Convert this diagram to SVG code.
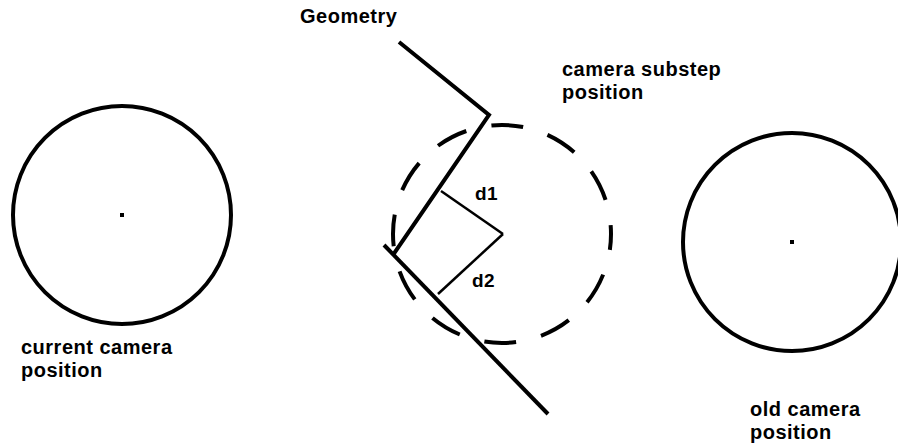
<svg xmlns="http://www.w3.org/2000/svg" width="898" height="447" viewBox="0 0 898 447">
<style>
.lbl{font-family:"Liberation Sans",Arial,sans-serif;font-weight:bold;font-size:20px;fill:#000;letter-spacing:0.5px}
.cam{fill:none;stroke:#000;stroke-width:4}
.dash{fill:none;stroke:#000;stroke-width:4;stroke-dasharray:32 25.6;stroke-dashoffset:16}
.geo{fill:none;stroke:#000;stroke-width:4;stroke-linejoin:miter}
.perp{fill:none;stroke:#000;stroke-width:2.5}
</style>
<rect width="898" height="447" fill="#fff"/>
<g id="current-camera">
<circle class="cam" cx="122" cy="215" r="109"/>
<rect x="120" y="213" width="4" height="4" fill="#000"/>
<text class="lbl" x="21" y="354">current camera</text>
<text class="lbl" x="21" y="377">position</text>
</g>
<g id="old-camera">
<circle class="cam" cx="792" cy="242" r="109"/>
<rect x="790" y="240" width="4" height="4" fill="#000"/>
<text class="lbl" x="750" y="416">old camera</text>
<text class="lbl" x="750" y="439">position</text>
</g>
<g id="substep-camera">
<circle class="dash" cx="502" cy="234" r="109"/>
<text class="lbl" x="562" y="76">camera substep</text>
<text class="lbl" x="562" y="99">position</text>
</g>
<g id="geometry">
<polyline class="geo" points="399,42 489,115 393,255"/>
<line class="geo" x1="384" y1="245" x2="548" y2="414"/>
<text class="lbl" x="300" y="23">Geometry</text>
</g>
<g id="connectors">
<line class="perp" x1="441" y1="191" x2="503" y2="234"/>
<line class="perp" x1="503" y1="234" x2="438" y2="294"/>
<text class="lbl" x="475" y="200" style="font-size:19px">d1</text>
<text class="lbl" x="472" y="287" style="font-size:19px">d2</text>
</g>
</svg>
